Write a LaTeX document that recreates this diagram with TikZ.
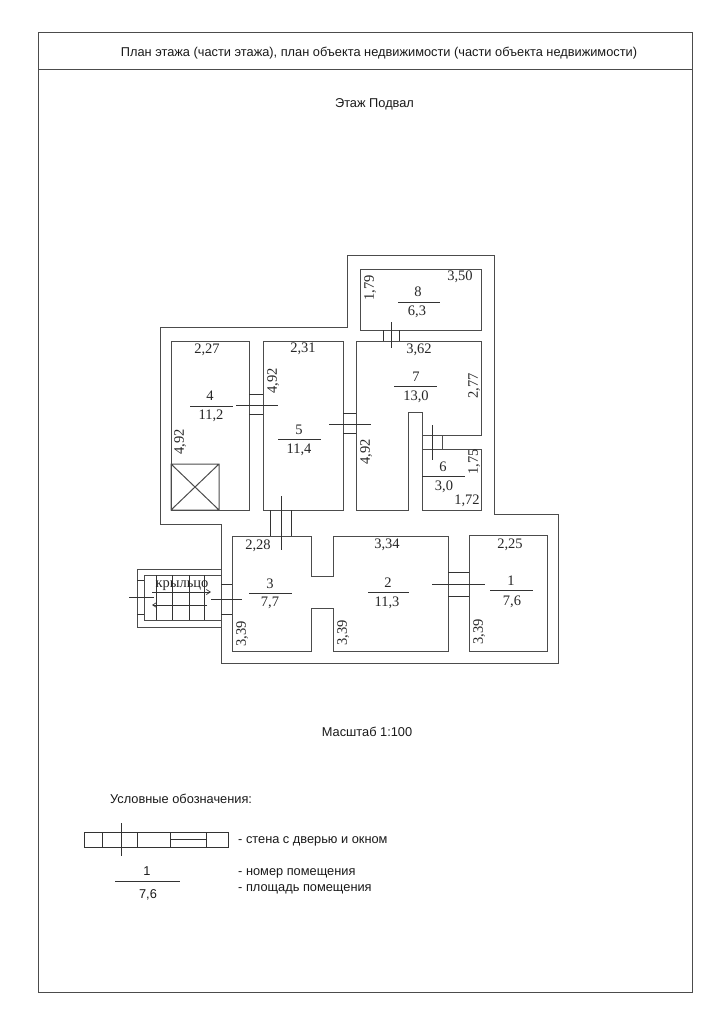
\documentclass[tikz,border=0pt]{standalone}
\usepackage{fontspec}
\setmainfont{Liberation Sans}
\newfontfamily\dimfont{Liberation Serif}
\usetikzlibrary{arrows.meta}

\begin{document}
\begin{tikzpicture}[x = 1pt, y = -1pt,
    wall/.style = {draw = black!70, line width = 1pt},
    thin wall/.style = {draw = black!80, line width = 0.7pt},
    dim/.style = {font = \fontsize{14.5}{16}\selectfont\dimfont, text = black!85, inner sep = 0pt, text height = 9.5pt, text depth = 0pt},
    dimv/.style = {dim, rotate = 90},
    caption/.style = {font = \fontsize{12.8}{15}\selectfont, text = black!90, inner sep = 0pt, text height = 9pt, text depth = 0pt}]
    \useasboundingbox (0,0) rectangle (723,1024);
    \draw[wall] (38,33) rectangle (692,992);
    \draw[wall] (38,70) -- (692,70);
    \node[caption] (title) at (379,52.5) {План этажа (части этажа), план объекта недвижимости (части объекта недвижимости)};
    \node[caption] (floor) at (374.5,103.5) {Этаж Подвал};
    \node[caption] (scale) at (367,732) {Масштаб 1:100};

    \draw[wall]
    (221,524) -- (160,524) -- (160,327) -- (347,327) -- (347,255) -- (494,255) -- (494,514) -- (558,514) -- (558,663) -- (221,663) -- cycle;
    \draw[wall]
    (360,269) rectangle (481,330);
    \draw[wall]
    (356,341) -- (481,341) -- (481,435) -- (422,435) -- (422,412) -- (408,412) -- (408,510) -- (356,510) -- cycle;
    \draw[wall]
    (422,435) -- (422,510) -- (481,510) -- (481,449) -- (442,449);
    \draw[wall]
    (422,449) -- (442,449) -- (442,435);
    \draw[wall]
    (171,341) rectangle (249,510);
    \draw[wall]
    (263,341) rectangle (343,510);
    \draw[wall]
    (171,464) rectangle (219,510) (171,464) -- (219,510) (171,510) -- (219,464);
    \draw[wall]
    (232,536) -- (311,536) -- (311,576) -- (333,576) -- (333,536) -- (448,536) -- (448,651) -- (333,651) -- (333,608) -- (311,608) -- (311,651) -- (232,651) -- cycle;
    \draw[wall]
    (469,535) rectangle (547,651);

    \draw[thin wall]
    (383,330) -- (383,341) (399,330) -- (399,341) (391,322) -- (391,348);
    \draw[thin wall]
    (432,425) -- (432,460);
    \draw[thin wall]
    (249,394) -- (263,394) (249,414) -- (263,414) (236,405) -- (278,405);
    \draw[thin wall]
    (343,413) -- (356,413) (343,433) -- (356,433) (329,424) -- (371,424);
    \draw[thin wall]
    (270,510) -- (270,536) (291,510) -- (291,536) (281,496) -- (281,550);
    \draw[thin wall]
    (448,572) -- (469,572) (448,596) -- (469,596) (432,584) -- (485,584);

    \draw[wall]
    (221,569) -- (137,569) -- (137,627) -- (221,627);
    \draw[wall]
    (221,575) -- (144,575) -- (144,620) -- (221,620);
    \draw[thin wall]
    (137,580) -- (144,580) (137,614) -- (144,614) (129,597) -- (154,597);
    \draw[thin wall]
    (221,584) -- (232,584) (221,614) -- (232,614) (211,599) -- (242,599);
    \draw[thin wall]
    (156,575) -- (156,620) (172,575) -- (172,620) (189,575) -- (189,620) (204,575) -- (204,620);
    \draw[thin wall, -{Straight Barb[length=4pt,width=5pt]}]
    (152,592) -- (211,592);
    \draw[thin wall, -{Straight Barb[length=4pt,width=5pt]}]
    (207,605) -- (152,605);
    \node[dim] (porch) at (182,583) {крыльцо};

    \node[dim] (num8) at (418,292) {8};
    \node[dim] (area8) at (417,311) {6,3};
    \draw[thin wall] (398,302) -- (440,302);
    \node[dim] (w8) at (460,276) {3,50};
    \node[dimv] (h8) at (369,288) {1,79};

    \node[dim] (w7) at (419,349) {3,62};
    \node[dim] (num7) at (416,377) {7};
    \node[dim] (area7) at (416,396) {13,0};
    \draw[thin wall] (394,386) -- (437,386);
    \node[dimv] (h7a) at (473,386) {2,77};
    \node[dimv] (h7b) at (365,452) {4,92};

    \node[dim] (num6) at (443,467) {6};
    \node[dim] (area6) at (444,486) {3,0};
    \draw[thin wall] (422,476) -- (465,476);
    \node[dimv] (h6) at (473,462) {1,75};
    \node[dim] (w6) at (467,500) {1,72};

    \node[dim] (w4) at (207,349) {2,27};
    \node[dim] (num4) at (210,396) {4};
    \node[dim] (area4) at (211,415) {11,2};
    \draw[thin wall] (190,406) -- (233,406);
    \node[dimv] (h4) at (179,442) {4,92};

    \node[dim] (w5) at (303,348) {2,31};
    \node[dim] (num5) at (299,430) {5};
    \node[dim] (area5) at (299,449) {11,4};
    \draw[thin wall] (278,439) -- (321,439);
    \node[dimv] (h5) at (272,381) {4,92};

    \node[dim] (w3) at (258,545) {2,28};
    \node[dim] (num3) at (270,584) {3};
    \node[dim] (area3) at (270,602) {7,7};
    \draw[thin wall] (249,593) -- (292,593);
    \node[dimv] (h3) at (241,634) {3,39};

    \node[dim] (w2) at (387,544) {3,34};
    \node[dim] (num2) at (388,583) {2};
    \node[dim] (area2) at (387,602) {11,3};
    \draw[thin wall] (368,592) -- (409,592);
    \node[dimv] (h2) at (342,633) {3,39};

    \node[dim] (w1) at (510,544) {2,25};
    \node[dim] (num1) at (511,581) {1};
    \node[dim] (area1) at (512,601) {7,6};
    \draw[thin wall] (490,590) -- (533,590);
    \node[dimv] (h1) at (478,632) {3,39};

    \node[caption, anchor = west] (legend) at (110,799) {Условные обозначения:};
    \draw[thin wall]
    (84,832) rectangle (228,847) (102,832) -- (102,847) (137,832) -- (137,847) (170,832) -- (170,847) (206,832) -- (206,847) (170,839) -- (206,839) (121,823) -- (121,856);
    \node[caption, anchor = west] (legwall) at (238,839) {- стена с дверью и окном};
    \node[caption] (legnum) at (147,871) {1};
    \node[caption] (legarea) at (148,894) {7,6};
    \draw[thin wall] (115,881) -- (180,881);
    \node[caption, anchor = west] (legroom) at (238,871) {- номер помещения};
    \node[caption, anchor = west] (legsize) at (238,887) {- площадь помещения};
\end{tikzpicture}
\end{document}
